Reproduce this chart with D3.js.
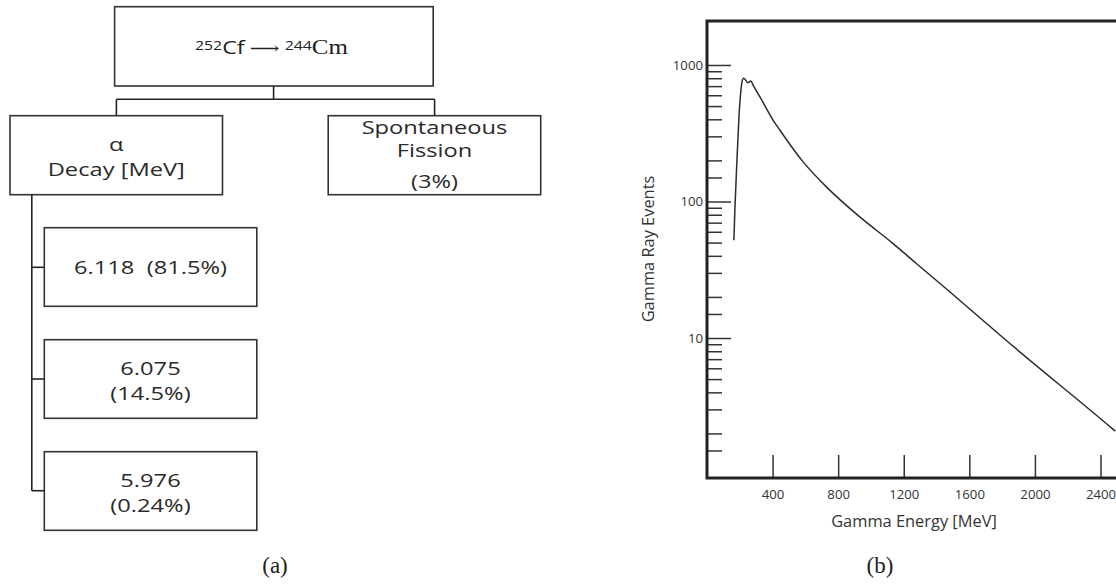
<!DOCTYPE html>
<html>
<head>
<meta charset="utf-8">
<script src="https://cdn.jsdelivr.net/npm/d3@7"></script>
<style>
  body { margin: 0; background: #fff; }
  svg { display: block; }
  text { white-space: pre; }
</style>
</head>
<body>
<svg id="fig" width="1116" height="586"></svg>
<script>
// ---- (a) decay scheme ----
const parentLabel = ["252", "Cf", "244", "Cm"];
const decayModes = [["α", "Decay [MeV]"], ["Spontaneous", "Fission", "(3%)"]];
const alphaLines = [["6.118  (81.5%)"], ["6.075", "(14.5%)"], ["5.976", "(0.24%)"]];

// ---- (b) gamma spectrum ----
const energy = [164, 170, 181, 195, 207, 216, 225, 249, 267, 281, 322, 403, 444, 585, 728, 930, 1133, 1275, 1477, 1822, 2470, 2490];
const events = [52, 87, 180, 418, 656, 777, 800, 741, 764, 713, 586, 395, 334, 196, 128, 77.4, 49.4, 35.3, 22, 9.67, 2.18, 2.08];
const xTicks = [400, 800, 1200, 1600, 2000, 2400];
const yMajor = [10, 100, 1000];
const yMinor = [0, 1, 2].flatMap(p => [1.5, 2, 3, 4, 5, 6, 7, 8, 9].map(k => k * Math.pow(10, p)));

const svg = d3.select("#fig");
const ink = "#2b2b2b";
const sans = "'Open Sans', sans-serif";
const serif = "'Liberation Serif', 'DejaVu Serif', serif";

const box = (g, x, y, w, h) => g.append("rect")
  .attr("x", x).attr("y", y).attr("width", w).attr("height", h)
  .attr("fill", "#fff").attr("stroke", "#333").attr("stroke-width", 1.6);

const seg = (g, x1, y1, x2, y2) => g.append("line")
  .attr("x1", x1).attr("y1", y1).attr("x2", x2).attr("y2", y2)
  .attr("stroke", "#222").attr("stroke-width", 1.6);

// stretched label like the original scan
const label = (g, x, y, str) => g.append("text")
  .attr("transform", `translate(${x},${y}) scale(1.28,1)`)
  .attr("text-anchor", "middle")
  .attr("xml:space", "preserve")
  .style("font-family", sans).style("font-size", "18.5px")
  .style("fill", "#2a2a2a").text(str);

const a = svg.append("g");

// top box + connectors
box(a, 114.6, 6.7, 318.6, 79.3);
seg(a, 273.6, 86, 273.6, 99.3);
seg(a, 116.4, 99.3, 434.6, 99.3);
seg(a, 116.4, 99.3, 116.4, 115.7);
seg(a, 434.6, 99.3, 434.6, 115.7);

const rootText = a.append("text")
  .attr("x", 271.5).attr("y", 54)
  .attr("text-anchor", "middle")
  .attr("textLength", 153).attr("lengthAdjust", "spacingAndGlyphs")
  .style("fill", "#222");
rootText.append("tspan").style("font-family", sans).style("font-size", "13px")
  .attr("dy", -4.5).text(parentLabel[0]);
rootText.append("tspan").style("font-family", sans).style("font-size", "19px")
  .attr("dy", 4.5).text(parentLabel[1]);
rootText.append("tspan").style("font-family", serif).style("font-size", "17px")
  .text(" \u27F6 ");
rootText.append("tspan").style("font-family", sans).style("font-size", "13px")
  .attr("dy", -4.5).text(parentLabel[2]);
rootText.append("tspan").style("font-family", serif).style("font-size", "20.5px")
  .attr("dy", 4.5).text(parentLabel[3]);

// mode boxes
const modeX = [10, 328.2];
const modeW = 212.5;
box(a, modeX[0], 115.7, modeW, 79);
box(a, modeX[1], 115.7, modeW, 79);
label(a, modeX[0] + modeW / 2, 151, decayModes[0][0]);
label(a, modeX[0] + modeW / 2, 176, decayModes[0][1]);
[134, 157.4, 187.5].forEach((yy, i) => label(a, modeX[1] + modeW / 2, yy, decayModes[1][i]));

// alpha branches
seg(a, 31.8, 194.7, 31.8, 490.7);
const rowTop = [227.7, 339.7, 451.7];
const rowTick = [267.3, 379, 490.7];
alphaLines.forEach((lines, i) => {
  seg(a, 31.8, rowTick[i], 44.3, rowTick[i]);
  box(a, 44.3, rowTop[i], 212.5, 78.6);
  if (lines.length === 1) {
    label(a, 150.5, rowTop[i] + 46.3, lines[0]);
  } else {
    label(a, 150.5, rowTop[i] + 35.3, lines[0]);
    label(a, 150.5, rowTop[i] + 60.3, lines[1]);
  }
});

a.append("text").attr("x", 275).attr("y", 573).attr("text-anchor", "middle")
  .style("font-family", serif).style("font-size", "23px").style("fill", "#222")
  .text("(a)");

// ---- (b) ----
const left = 707, bottom = 478, topY = 21;
const x = d3.scaleLinear().domain([0, 2400]).range([left, 1100.5]);
const y = d3.scaleLog().domain([0.943, 2100]).range([bottom, topY]);

const b = svg.append("g");

b.append("defs").append("clipPath").attr("id", "plotclip")
  .append("rect").attr("x", left).attr("y", topY).attr("width", 1116 - left).attr("height", bottom - topY);

const gMinor = b.append("g").attr("transform", `translate(${left},0)`)
  .call(d3.axisLeft(y).tickValues(yMinor).tickSize(-15).tickFormat(""));
const gMajor = b.append("g").attr("transform", `translate(${left},0)`)
  .call(d3.axisLeft(y).tickValues(yMajor).tickSize(-24).tickPadding(4).tickFormat(d3.format("d")));
const gx = b.append("g").attr("transform", `translate(0,${bottom})`)
  .call(d3.axisBottom(x).tickValues(xTicks).tickSize(-23).tickPadding(12).tickFormat(d3.format("d")));

[gMinor, gMajor, gx].forEach(g => {
  g.select(".domain").remove();
  g.selectAll(".tick line").attr("stroke", "#333").attr("stroke-width", 1.5);
  g.selectAll(".tick text").style("font-family", sans).style("font-size", "13.2px").style("fill", "#333");
});

b.append("path")
  .datum(energy.map((e, i) => [e, events[i]]))
  .attr("clip-path", "url(#plotclip)")
  .attr("fill", "none").attr("stroke", ink).attr("stroke-width", 1.5)
  .attr("d", d3.line().x(d => x(d[0])).y(d => y(d[1])).curve(d3.curveMonotoneX));

// frame
b.append("path")
  .attr("d", `M1116,${topY}H${left}V${bottom}H1116`)
  .attr("fill", "none").attr("stroke", "#222").attr("stroke-width", 3);

b.append("text").attr("x", 914).attr("y", 526.5).attr("text-anchor", "middle")
  .style("font-family", sans).style("font-size", "16.4px").style("fill", "#333")
  .text("Gamma Energy [MeV]");

b.append("text").attr("transform", "translate(654,249) rotate(-90)").attr("text-anchor", "middle")
  .style("font-family", sans).style("font-size", "16.4px").style("fill", "#333")
  .text("Gamma Ray Events");

b.append("text").attr("x", 880).attr("y", 572.5).attr("text-anchor", "middle")
  .style("font-family", serif).style("font-size", "23px").style("fill", "#222")
  .text("(b)");
</script>
</body>
</html>
